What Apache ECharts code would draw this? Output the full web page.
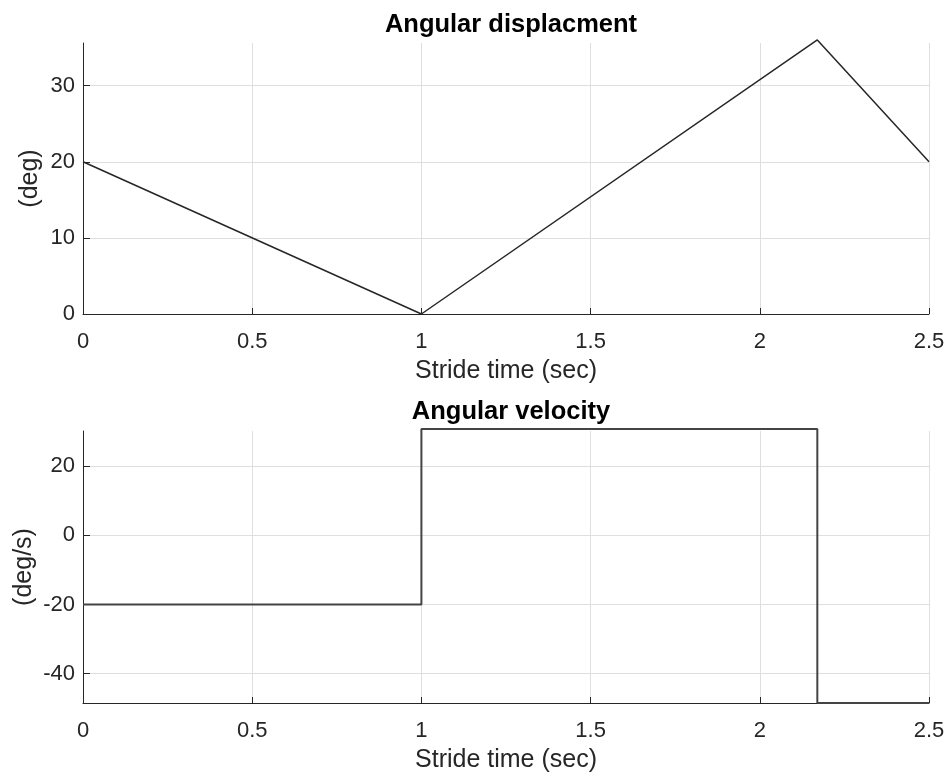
<!DOCTYPE html>
<html>
<head>
<meta charset="utf-8">
<script src="https://cdn.jsdelivr.net/npm/echarts@6/dist/echarts.min.js"></script>
<style>
html,body{margin:0;padding:0;background:#fff;}
#main{width:948px;height:776px;}
</style>
</head>
<body>
<div id="main"></div>
<script>
// ---- data ----
const timeAngle = [0, 1, 2.17, 2.5];
const angleDeg = [20, 0, 36, 20];
const timeVel = [0, 1, 1, 2.17, 2.17, 2.5];
const velDegS = [-20, -20, 30.8, 30.8, -48.5, -48.5];
const xTicks = [0, 0.5, 1, 1.5, 2, 2.5];
const angleTicks = [0, 10, 20, 30];
const velTicks = [-40, -20, 0, 20];
const titles = ['Angular displacment', 'Angular velocity'];
const xName = 'Stride time (sec)';
const yNames = ['(deg)', '(deg/s)'];

const FONT = '"Liberation Sans", Arial, Helvetica, sans-serif';
const AXC = '#262626';
const GRIDC = '#dfdfdf';

function xAxisCfg(idx) {
  return {
    type: 'value', gridIndex: idx, min: 0, max: 2.5, interval: 0.5,
    name: xName, nameLocation: 'middle', nameGap: 45, nameMoveOverlap: false,
    nameTextStyle: { fontFamily: FONT, fontSize: 25, color: AXC },
    axisLine: { show: true, onZero: false, lineStyle: { color: AXC, width: 1 } },
    axisTick: { show: true, inside: true, length: 6, lineStyle: { color: AXC } },
    axisLabel: { margin: 17, fontFamily: FONT, fontSize: 22, color: AXC,
      customValues: xTicks },
    splitLine: { show: true, lineStyle: { color: GRIDC, width: 1 } }
  };
}
function yAxisCfg(idx, mn, mx, ticks, name, gap) {
  return {
    type: 'value', gridIndex: idx, min: mn, max: mx,
    name: name, nameLocation: 'middle', nameGap: gap, nameRotate: 90, nameMoveOverlap: false,
    nameTextStyle: { fontFamily: FONT, fontSize: 25, color: AXC },
    axisLine: { show: true, onZero: false, lineStyle: { color: AXC, width: 1 } },
    axisTick: { show: true, inside: true, length: 7, lineStyle: { color: AXC }, customValues: ticks },
    axisLabel: { margin: 8, fontFamily: FONT, fontSize: 22, color: AXC, customValues: ticks },
    splitLine: { show: true, lineStyle: { color: GRIDC, width: 1 } }
  };
}

const chart = echarts.init(document.getElementById('main'), null, { renderer: 'canvas' });
chart.setOption({
  backgroundColor: '#ffffff',
  animation: false,
  title: [
    { text: titles[0], left: 506, top: 7, textAlign: 'center',
      textStyle: { fontFamily: FONT, fontSize: 25.5, fontWeight: 'bold', color: '#000' } },
    { text: titles[1], left: 506, top: 394, textAlign: 'center',
      textStyle: { fontFamily: FONT, fontSize: 25.5, fontWeight: 'bold', color: '#000' } }
  ],
  grid: [
    { left: 83, right: 19, top: 43, height: 271, containLabel: false },
    { left: 83, right: 19, top: 431, height: 272, containLabel: false }
  ],
  xAxis: [xAxisCfg(0), xAxisCfg(1)],
  yAxis: [
    yAxisCfg(0, 0, 35.6, angleTicks, yNames[0], 40),
    yAxisCfg(1, -48.5, 30.2, velTicks, yNames[1], 46)
  ],
  series: [
    { type: 'line', xAxisIndex: 0, yAxisIndex: 0, clip: false, symbol: 'none',
      data: timeAngle.map((t, i) => [t, angleDeg[i]]),
      lineStyle: { color: '#262626', width: 1.5 } },
    { type: 'line', xAxisIndex: 1, yAxisIndex: 1, clip: false, symbol: 'none',
      data: timeVel.map((t, i) => [t, velDegS[i]]),
      lineStyle: { color: '#444444', width: 2 } }
  ]
});
</script>
</body>
</html>
